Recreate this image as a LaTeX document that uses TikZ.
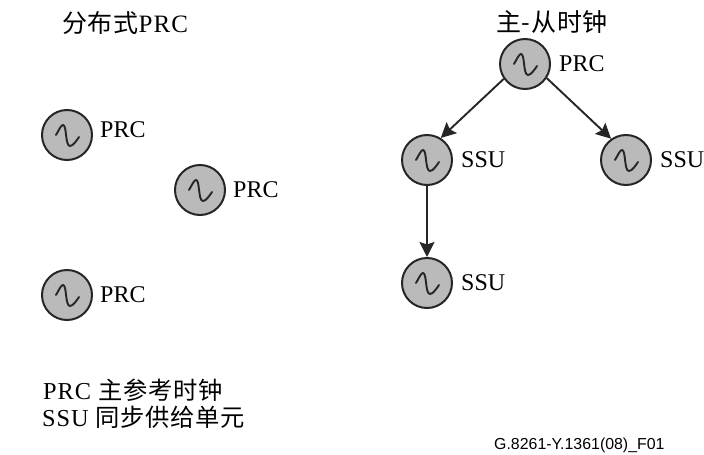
\documentclass[tikz,border=0pt]{standalone}
\usepackage{fontspec}
\setmainfont{Liberation Serif}
\newfontfamily\cjk[LetterSpace=3]{Noto Sans CJK SC}
\newfontfamily\spaced[LetterSpace=4]{Liberation Serif}
\newfontfamily\footfont{Liberation Sans}
\usetikzlibrary{positioning,arrows.meta}

\tikzset{
  every clock/.style={circle, draw=black!85, line width=2pt, fill=black!27, minimum size=50pt, inner sep=0pt,
    path picture={
      \draw [line width=1.9pt, black!85, line cap=round]
        ([shift={(-11pt,0pt)}]path picture bounding box.center)
        .. controls ([shift={(-8pt,5pt)}]path picture bounding box.center) and ([shift={(-6pt,10pt)}]path picture bounding box.center) .. ([shift={(-4pt,10pt)}]path picture bounding box.center)
        .. controls ([shift={(0pt,10pt)}]path picture bounding box.center) and ([shift={(-2pt,-11pt)}]path picture bounding box.center) .. ([shift={(3pt,-11pt)}]path picture bounding box.center)
        .. controls ([shift={(6pt,-11pt)}]path picture bounding box.center) and ([shift={(10pt,-5pt)}]path picture bounding box.center) .. ([shift={(12pt,-2pt)}]path picture bounding box.center);
    }},
  clock label/.style={font=\fontsize{24}{24}\selectfont, inner sep=0pt, anchor=west},
  head label/.style={font=\fontsize{25}{25}\spaced, inner sep=0pt, anchor=west},
  legend label/.style={font=\fontsize{24.3}{24.3}\spaced, inner sep=0pt, anchor=west},
  tree arrow/.style={-{Stealth[length=15pt,width=15pt,inset=2.5pt]}, line width=1.9pt, black!85}
}

\begin{document}
\begin{tikzpicture}[x=1pt, y=-1pt]

\useasboundingbox (0,0) rectangle (704,455);

% distributed clocks
\foreach \m/\x/\y in {1/67/135, 2/200/190, 3/67/295}
  \node [every clock] (dist-\m) at (\x,\y) {};

% master-slave clocks
\foreach \m/\x/\y in {1/525/64, 2/427/160, 3/626/160, 4/427/283}
  \node [every clock] (tree-\m) at (\x,\y) {};

% clock labeling
\foreach \m/\s in {1/5pt, 2/0pt, 3/0pt}
  \node [clock label, right=7pt of dist-\m, yshift=\s] {PRC};
\foreach \m/\l in {1/PRC, 2/SSU, 3/SSU, 4/SSU}
  \node [clock label, right=8pt of tree-\m] {\l};

% arrows
\draw [tree arrow] (tree-1.215) -- (tree-2.58);
\draw [tree arrow] (tree-1.327) -- (tree-3.125);
\draw [tree arrow] (tree-2) -- (tree-4);

% headings
\node [head label] (head-1) at (62,23) {{\cjk 分布式}PRC};
\node [head label] (head-2) at (496,22) {{\cjk 主-从时钟}};

% legend
\node [legend label] (legend-1) at (43,390) {PRC {\cjk 主参考时钟}};
\node [legend label] (legend-2) at (42,417) {SSU {\cjk 同步供给单元}};

\node [inner sep=0pt, anchor=west, font=\footfont\fontsize{15.9}{15.9}\selectfont] (figure-id) at (494,445) {G.8261-Y.1361(08)\_F01};

\end{tikzpicture}
\end{document}
